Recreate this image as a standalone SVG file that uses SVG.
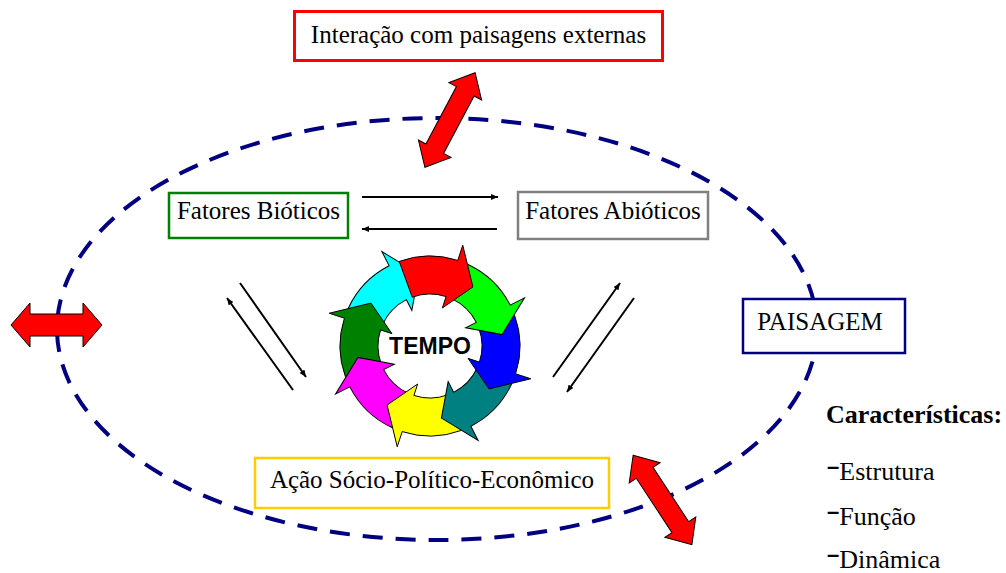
<svg xmlns="http://www.w3.org/2000/svg" xmlns:xlink="http://www.w3.org/1999/xlink" width="1006" height="573" viewBox="0 0 1006 573">
<style>
.lbl{font-family:"Liberation Serif","Times New Roman",serif;font-size:25px;fill:#000;text-anchor:middle}
.box{fill:#fff;stroke-width:2.5}
.seg{stroke:#000;stroke-width:1;stroke-linejoin:miter}
.blk{stroke:#000;stroke-width:2;fill:none;marker-end:url(#ah)}
.dbl{fill:#ff0000;stroke:#000;stroke-width:1}
.list{font-family:"Liberation Serif","Times New Roman",serif;font-size:26px;fill:#000}
.dash{font-family:"Liberation Sans",Arial,sans-serif;font-weight:bold;font-size:22px}
</style>
<defs>
<marker id="ah" markerUnits="userSpaceOnUse" markerWidth="7" markerHeight="6" refX="7" refY="3" orient="auto">
<path d="M0,0 L7,3 L0,6 z" fill="#000"/>
</marker>
<path id="seg" d="M-30.78,-84.57 A90,90 0 0 1 27.81,-85.60 L32.76,-100.81 L42.91,-59.06 L12.36,-38.04 L16.07,-49.45 A52,52 0 0 0 -17.78,-48.86 Z"/>
<path id="dblH" d="M-45.5,0 L-26.5,-22 L-26.5,-11 L26.5,-11 L26.5,-22 L45.5,0 L26.5,22 L26.5,11 L-26.5,11 L-26.5,22 Z"/>
<path id="dblD" d="M-53.5,0 L-32.5,-18.5 L-32.5,-10 L32.5,-10 L32.5,-18.5 L53.5,0 L32.5,18.5 L32.5,10 L-32.5,10 L-32.5,18.5 Z"/>
</defs>
<rect width="1006" height="573" fill="#fff"/>
<ellipse id="paisagem-boundary" cx="437" cy="329" rx="380" ry="211" fill="none" stroke="#000080" stroke-width="4" stroke-dasharray="20 13"/>

<g id="connectors">
<line class="blk" x1="362" y1="197" x2="498" y2="197"/>
<line class="blk" x1="497" y1="229" x2="362" y2="229"/>
<line class="blk" x1="240" y1="283" x2="306" y2="377"/>
<line class="blk" x1="293" y1="390" x2="227" y2="298"/>
<line class="blk" x1="553" y1="377" x2="620" y2="283"/>
<line class="blk" x1="634" y1="298" x2="567" y2="392"/>
<use xlink:href="#dblH" class="dbl" transform="translate(56.5,325)"/>
<use xlink:href="#dblD" class="dbl" transform="translate(450,120) rotate(-62)"/>
<use xlink:href="#dblD" class="dbl" transform="translate(662.5,500) rotate(56.7)"/>
</g>

<g id="node-interacao">
<rect x="294.5" y="11.5" width="368" height="49" fill="#fff" stroke="#ff0000" stroke-width="3"/>
<text class="lbl" x="478.5" y="43">Interação com paisagens externas</text>
</g>
<g id="node-bioticos">
<rect class="box" x="169" y="193" width="179" height="45" stroke="#008000"/>
<text class="lbl" x="258.5" y="219">Fatores Bióticos</text>
</g>
<g id="node-abioticos">
<rect class="box" x="518" y="192" width="190" height="47" stroke="#808080"/>
<text class="lbl" x="613" y="219">Fatores Abióticos</text>
</g>
<g id="node-paisagem">
<rect class="box" x="743" y="299" width="162" height="54" stroke="#000080"/>
<text class="lbl" x="820" y="330">PAISAGEM</text>
</g>
<g id="node-acao">
<rect class="box" x="255" y="458" width="354" height="50" stroke="#ffcc00"/>
<text class="lbl" x="432" y="488">Ação Sócio-Político-Econômico</text>
</g>

<g id="node-tempo" transform="translate(430,346)">
<use xlink:href="#seg" class="seg" fill="#00ffff" transform="rotate(315)"/>
<use xlink:href="#seg" class="seg" fill="#008000" transform="rotate(270)"/>
<use xlink:href="#seg" class="seg" fill="#ff00ff" transform="rotate(225)"/>
<use xlink:href="#seg" class="seg" fill="#ffff00" transform="rotate(180)"/>
<use xlink:href="#seg" class="seg" fill="#008080" transform="rotate(135)"/>
<use xlink:href="#seg" class="seg" fill="#0000ff" transform="rotate(90)"/>
<use xlink:href="#seg" class="seg" fill="#00ff00" transform="rotate(45)"/>
<use xlink:href="#seg" class="seg" fill="#ff0000"/>
<text x="0" y="8" font-family="Liberation Sans, Arial, sans-serif" font-weight="bold" font-size="23" text-anchor="middle" fill="#000">TEMPO</text>
</g>

<g id="node-caracteristicas">
<text class="list" x="826" y="423" font-weight="bold">Características:</text>
<text class="list" x="827" y="480"><tspan class="dash" dy="-6">–</tspan><tspan dy="6">Estrutura</tspan></text>
<text class="list" x="827" y="525"><tspan class="dash" dy="-6">–</tspan><tspan dy="6">Função</tspan></text>
<text class="list" x="827" y="568"><tspan class="dash" dy="-6">–</tspan><tspan dy="6">Dinâmica</tspan></text>
</g>
</svg>
